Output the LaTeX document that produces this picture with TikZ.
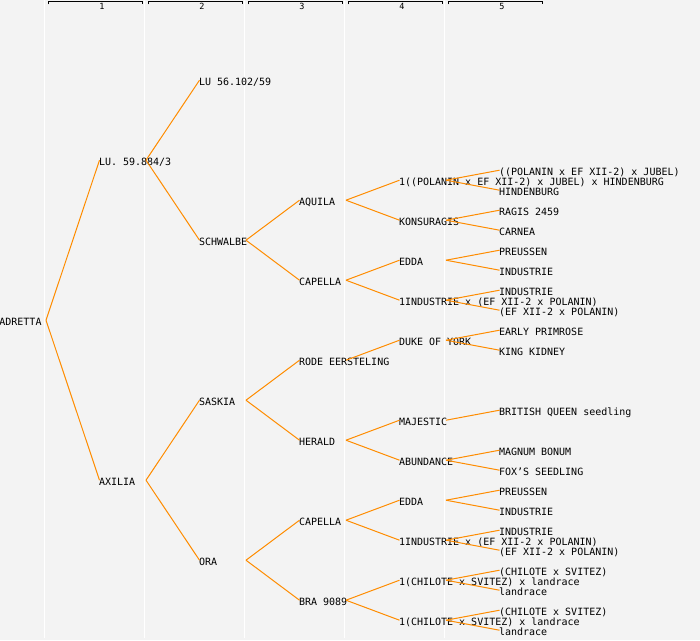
\documentclass[tikz,border=0pt]{standalone}
\usepackage{fontspec}
\newfontfamily\pedmono{DejaVu Sans Mono}
\definecolor{bgcol}{HTML}{F3F3F3}
\definecolor{linkcol}{HTML}{FF8C00}
\newcommand{\pednode}[5]{% name, level, Y, parent, text
  \node[lbl] (#1) at ({100*#2-1.2},{#3+3.7}) {#5};
  \coordinate (#1-in) at ({100*#2-0.5},{#3-1.8});
  \coordinate (#1-out) at ({100*#2+46},{#3-1.8});
  \draw[link] (#4-out) -- (#1-in);
}
\newcommand{\pedhead}[1]{%
  \draw[bracket] ({100*(#1-1)+48.5},4.4) -- ({100*(#1-1)+48.5},1.5) -- ({100*(#1-1)+142.5},1.5) -- ({100*(#1-1)+142.5},4.4);
  \node[hdr] (h#1) at ({100*(#1-1)+102},6.3) {#1};
}
\begin{document}
\begin{tikzpicture}[x=1pt,y=-1pt,
  lbl/.style={anchor=base west,inner sep=0pt,font=\pedmono\fontsize{10}{12}\selectfont,text=black},
  hdr/.style={anchor=center,inner sep=0pt,font=\pedmono\fontsize{8.5}{10}\selectfont,text=black},
  link/.style={draw=linkcol,line width=1pt},
  grid/.style={draw=white,line width=1.3pt},
  bracket/.style={draw=black,line width=1pt}]
\fill[bgcol] (0,0) rectangle (700,640);
\useasboundingbox (0,0) rectangle (700,640);
\foreach \gx in {44.5,144.5,244.5,344.5,444.5} {\draw[grid] (\gx,0) -- (\gx,637.7);}
\foreach \c in {1,...,5} {\pedhead{\c}}
% level 0
\node[lbl] (A) at (-0.8,325.7) {ADRETTA};
\coordinate (A-out) at (46,320.2);
% level 1
\pednode{B}{1}{162}{A}{LU. 59.884/3}
\pednode{C}{1}{482}{A}{AXILIA}
% level 2
\pednode{D}{2}{82}{B}{LU 56.102/59}
\pednode{E}{2}{242}{B}{SCHWALBE}
\pednode{F}{2}{402}{C}{SASKIA}
\pednode{G}{2}{562}{C}{ORA}
% level 3
\pednode{H}{3}{202}{E}{AQUILA}
\pednode{I}{3}{282}{E}{CAPELLA}
\pednode{J}{3}{362}{F}{RODE EERSTELING}
\pednode{K}{3}{442}{F}{HERALD}
\pednode{L}{3}{522}{G}{CAPELLA}
\pednode{M}{3}{602}{G}{BRA 9089}
% level 4
\pednode{N}{4}{182}{H}{1((POLANIN x EF XII-2) x JUBEL) x HINDENBURG}
\pednode{O}{4}{222}{H}{KONSURAGIS}
\pednode{P}{4}{262}{I}{EDDA}
\pednode{Q}{4}{302}{I}{1INDUSTRIE x (EF XII-2 x POLANIN)}
\pednode{R}{4}{342}{J}{DUKE OF YORK}
\pednode{S}{4}{422}{K}{MAJESTIC}
\pednode{T}{4}{462}{K}{ABUNDANCE}
\pednode{U}{4}{502}{L}{EDDA}
\pednode{V}{4}{542}{L}{1INDUSTRIE x (EF XII-2 x POLANIN)}
\pednode{W}{4}{582}{M}{1(CHILOTE x SVITEZ) x landrace}
\pednode{X}{4}{622}{M}{1(CHILOTE x SVITEZ) x landrace}
% level 5
\pednode{N1}{5}{172}{N}{((POLANIN x EF XII-2) x JUBEL)}
\pednode{N2}{5}{192}{N}{HINDENBURG}
\pednode{O1}{5}{212}{O}{RAGIS 2459}
\pednode{O2}{5}{232}{O}{CARNEA}
\pednode{P1}{5}{252}{P}{PREUSSEN}
\pednode{P2}{5}{272}{P}{INDUSTRIE}
\pednode{Q1}{5}{292}{Q}{INDUSTRIE}
\pednode{Q2}{5}{312}{Q}{(EF XII-2 x POLANIN)}
\pednode{R1}{5}{332}{R}{EARLY PRIMROSE}
\pednode{R2}{5}{352}{R}{KING KIDNEY}
\pednode{S1}{5}{412}{S}{BRITISH QUEEN seedling}
\pednode{T1}{5}{452}{T}{MAGNUM BONUM}
\pednode{T2}{5}{472}{T}{FOX’S SEEDLING}
\pednode{U1}{5}{492}{U}{PREUSSEN}
\pednode{U2}{5}{512}{U}{INDUSTRIE}
\pednode{V1}{5}{532}{V}{INDUSTRIE}
\pednode{V2}{5}{552}{V}{(EF XII-2 x POLANIN)}
\pednode{W1}{5}{572}{W}{(CHILOTE x SVITEZ)}
\pednode{W2}{5}{592}{W}{landrace}
\pednode{X1}{5}{612}{X}{(CHILOTE x SVITEZ)}
\pednode{X2}{5}{632}{X}{landrace}
\end{tikzpicture}
\end{document}
